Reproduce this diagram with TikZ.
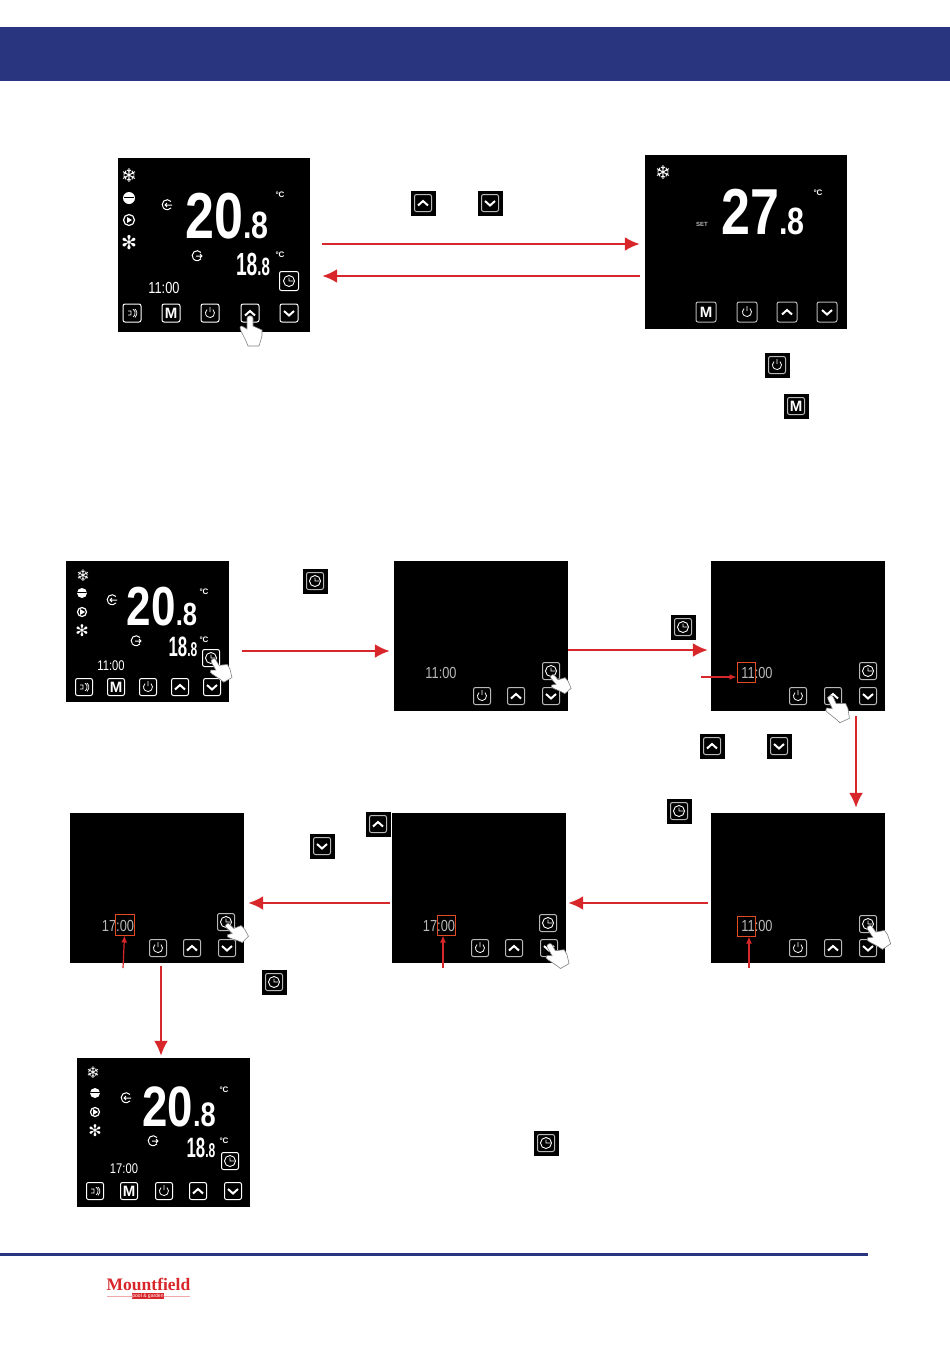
\documentclass[tikz,border=0pt]{standalone}
\usepackage{fontspec}
\setmainfont{Liberation Sans}
\newfontfamily\symfont{DejaVu Sans}
\newfontfamily\logofont{Liberation Serif}
\usetikzlibrary{arrows.meta}

\definecolor{bandblue}{HTML}{2A3580}
\definecolor{flowred}{HTML}{D8272B}
\definecolor{boxred}{HTML}{E24A24}
\definecolor{keygrey}{HTML}{B8B8B8}

\tikzset{
	screen/.style={fill=black, inner sep=0pt},
	flow/.style={draw=flowred, line width=2.3pt, -{Latex[length=15pt,width=14pt]}},
	pointer/.style={draw=flowred, line width=1.2pt, -{Latex[length=7pt,width=6pt]}},
	digitbox/.style={draw=boxred, line width=1pt, inner sep=0pt},
	lcd/.style={text=white, inner sep=0pt, transform shape},
	lcdbig/.style={lcd, font=\bfseries\fontsize{65}{65}\selectfont, xscale=.8},
	lcdmid/.style={lcd, font=\bfseries\fontsize{32}{32}\selectfont, xscale=.6},
	lcdtime/.style={lcd, font=\fontsize{16}{16}\selectfont, xscale=.8},
	unit/.style={text=white, inner sep=0pt, font=\bfseries\fontsize{8}{8}\selectfont},
	symbol/.style={text=white, inner sep=0pt, font=\symfont\fontsize{19}{19}\selectfont},
	keybox/.style={draw=white, fill=black, line width=1pt, rounded corners=2pt, inner sep=0pt, minimum size=17pt},
	keyup/.style={keybox, path picture={\draw[white, sharp corners, line width=2pt, shift={(path picture bounding box.center)}] (-5,2.5) -- (0,-2) -- (5,2.5);}},
	keydown/.style={keybox, path picture={\draw[white, sharp corners, line width=2pt, shift={(path picture bounding box.center)}] (-5,-2) -- (0,2.5) -- (5,-2);}},
	keypower/.style={keybox, path picture={\draw[white, sharp corners, line width=.8pt, shift={(path picture bounding box.center)}] (2.9,-3.4) arc[start angle=-50, end angle=230, radius=4.5] (0,-6) -- (0,-1);}},
	keyclock/.style={keybox, path picture={\draw[white, sharp corners, line width=.9pt, shift={(path picture bounding box.center)}] (0,0) circle[radius=5.5] (0,-3.5) -- (0,0) -- (4,0);}},
	keyfan/.style={keybox, path picture={\draw[white, sharp corners, line width=.7pt, shift={(path picture bounding box.center)}] (-4,-2) -- (-1,-2) -- (-1,2) -- (-4,2) (1,-4) arc[start angle=-60, end angle=60, radius=4.5] (3,-4) arc[start angle=-50, end angle=50, radius=5.5];}},
	keym/.style={keybox, text=white, font=\bfseries\fontsize{15}{15}\selectfont},
	iconbox/.style={fill=black, inner sep=0pt, minimum size=25pt},
	pumpmark/.style={circle, fill=white, inner sep=0pt, minimum size=12pt, path picture={\draw[black, line width=1pt, shift={(path picture bounding box.center)}] (-5,-1) -- (5,-1);}},
	playmark/.style={circle, draw=white, fill=black, line width=1.2pt, inner sep=0pt, minimum size=11pt, path picture={\fill[white, shift={(path picture bounding box.center)}] (-2,-3) -- (3,0) -- (-2,3) -- cycle;}},
	inletmark/.style={inner sep=0pt, minimum size=12pt, path picture={\draw[white, line width=1pt, shift={(path picture bounding box.center)}] (4,-3.5) arc[start angle=40, end angle=320, radius=5, y radius=-5] (5,0) -- (-2,0) (0,-2) -- (-2,0) -- (0,2);}},
	outletmark/.style={inner sep=0pt, minimum size=12pt, path picture={\draw[white, line width=1pt, shift={(path picture bounding box.center)}] (4,-3.5) arc[start angle=40, end angle=320, radius=5, y radius=-5] (-1,0) -- (5,0) (3,-2) -- (5,0) -- (3,2);}},
}

\newcommand{\keyicon}[5]{
	\node[iconbox] (#1box) at (#2,#3) {};
	\node[#4, draw=keygrey, minimum size=17pt] (#1key) at (#2,#3) {#5};
}
\newcommand{\handmark}[4]{
	\draw[draw=gray, fill=white, line width=.6pt, shift={(#1,#2)}, rotate=#3, scale=#4] (-3,1) -- (-3,12) -- (-8,9) .. controls (-11,9) and (-10,12) .. (-9,14) -- (-4,24) -- (-2,29) -- (9,29) -- (12,19) -- (12,13) -- (3,9) -- (3,1) .. controls (3,-2) and (-3,-2) .. (-3,1) -- cycle;
}

\begin{document}
\begin{tikzpicture}[x=1pt, y=-1pt]
	\useasboundingbox (0,0) rectangle (950,1347);
	\fill[bandblue] (0,27) rectangle (950,81);
	\fill[bandblue] (0,1253) rectangle (868,1256);

	% first row
	\node[screen, minimum width=192pt, minimum height=174pt] (scrA) at (214,245) {};
	\node[symbol] (snowA) at (129,176) {❄};
	\node[pumpmark] (pumpA) at (129,198) {};
	\node[playmark] (playA) at (129,220) {};
	\node[symbol] (fanA) at (129,243) {✻};
	\node[inletmark] (inA) at (167,205) {};
	\node[outletmark] (outA) at (197,256) {};
	\node[lcdbig] (tempA) at (227,216) {20{\fontsize{38}{38}\selectfont.8}};
	\node[unit] (unitA) at (280,195) {°C};
	\node[lcdmid] (retA) at (253,264) {18{\fontsize{25}{25}\selectfont.8}};
	\node[unit] (unitAb) at (280,255) {°C};
	\node[keyclock, minimum size=19pt] (clockA) at (289,281) {};
	\node[lcdtime] (timeA) at (164,288) {11:00};
	\node[keyfan, minimum size=18pt] (fanKeyA) at (132,313) {};
	\node[keym, minimum size=18pt] (modeA) at (171,313) {M};
	\node[keypower, minimum size=18pt] (powerA) at (210,313) {};
	\node[keyup, minimum size=18pt] (upA) at (250,313) {};
	\node[keydown, minimum size=18pt] (downA) at (289,313) {};
	\handmark{250}{317}{0}{1}

	\node[screen, minimum width=202pt, minimum height=174pt] (scrB) at (746,242) {};
	\node[symbol] (snowB) at (663,173) {❄};
	\node[text=keygrey, inner sep=0pt, font=\bfseries\fontsize{6}{6}\selectfont] (setB) at (702,224) {SET};
	\node[lcdbig] (tempB) at (763,212) {27{\fontsize{38}{38}\selectfont.8}};
	\node[unit] (unitB) at (818,193) {°C};
	\node[keym, draw=keygrey, minimum size=20pt] (modeB) at (706,312) {M};
	\node[keypower, draw=keygrey, minimum size=20pt] (powerB) at (747,312) {};
	\node[keyup, draw=keygrey, minimum size=20pt] (upB) at (787,312) {};
	\node[keydown, draw=keygrey, minimum size=20pt] (downB) at (827,312) {};

	\keyicon{iconUpA}{423}{203}{keyup}{}
	\keyicon{iconDownA}{490}{203}{keydown}{}
	\keyicon{iconPowerB}{777}{365}{keypower}{}
	\keyicon{iconModeB}{796}{406}{keym}{M}

	\draw[flow] ([xshift=12pt,yshift=1pt]scrA.east) -- ([xshift=-5pt,yshift=-2pt]scrB.west);
	\draw[flow] ([xshift=-5pt,yshift=-34pt]scrB.west) -- ([xshift=12pt,yshift=-31pt]scrA.east);

	% second row
	\node[screen, minimum width=163pt, minimum height=141pt] (scrC) at (147.5,631.5) {};
	\node[symbol, font=\symfont\fontsize{16}{16}\selectfont] (snowC) at (83,576) {❄};
	\node[pumpmark, minimum size=10pt] (pumpC) at (82,593) {};
	\node[playmark, minimum size=9pt] (playC) at (82,612) {};
	\node[symbol, font=\symfont\fontsize{16}{16}\selectfont] (fanC) at (82,631) {✻};
	\node[inletmark] (inC) at (112,600) {};
	\node[outletmark] (outC) at (136,641) {};
	\node[lcdbig, font=\bfseries\fontsize{55}{55}\selectfont] (tempC) at (162,607) {20{\fontsize{32}{32}\selectfont.8}};
	\node[unit] (unitC) at (204,592) {°C};
	\node[lcdmid, font=\bfseries\fontsize{28}{28}\selectfont] (retC) at (183,647) {18{\fontsize{20}{20}\selectfont.8}};
	\node[unit] (unitCb) at (204,640) {°C};
	\node[keyclock] (clockC) at (211,658) {};
	\node[lcdtime, font=\fontsize{14}{14}\selectfont] (timeC) at (111,666) {11:00};
	\node[keyfan] (fanKeyC) at (84,687) {};
	\node[keym] (modeC) at (116,687) {M};
	\node[keypower] (powerC) at (148,687) {};
	\node[keyup] (upC) at (180,687) {};
	\node[keydown] (downC) at (212,687) {};
	\handmark{213}{660}{30}{.85}

	\node[screen, minimum width=174pt, minimum height=150pt] (scrD) at (481,636) {};
	\node[lcdtime, text=keygrey] (timeD) at (441,673) {11:00};
	\node[keyclock, draw=keygrey] (clockD) at (551,671) {};
	\node[keypower, draw=keygrey] (powerD) at (482,696) {};
	\node[keyup, draw=keygrey] (upD) at (516,696) {};
	\node[keydown, draw=keygrey] (downD) at (551,696) {};
	\handmark{552}{676}{40}{.75}

	\node[screen, minimum width=174pt, minimum height=150pt] (scrE) at (798,636) {};
	\node[lcdtime, text=keygrey] (timeE) at (757,673) {11:00};
	\node[digitbox, minimum width=18pt, minimum height=20pt] (boxE) at (746,672) {};
	\node[keyclock, draw=keygrey] (clockE) at (868,671) {};
	\node[keypower, draw=keygrey] (powerE) at (798,696) {};
	\node[keyup, draw=keygrey] (upE) at (833,696) {};
	\node[keydown, draw=keygrey] (downE) at (868,696) {};
	\handmark{830}{697}{25}{.95}
	\coordinate (hourE) at (701,677);
	\draw[pointer] (hourE) -- ([yshift=-5pt]boxE.west);

	\keyicon{iconClockC}{315}{581}{keyclock}{}
	\keyicon{iconClockD}{683}{627}{keyclock}{}
	\keyicon{iconUpE}{712}{746}{keyup}{}
	\keyicon{iconDownE}{779}{746}{keydown}{}
	\keyicon{iconClockF}{679}{811}{keyclock}{}

	\draw[flow] ([xshift=13pt,yshift=-19.5pt]scrC.east) -- ([xshift=-4pt,yshift=-15pt]scrD.west);
	\draw[flow] ([xshift=0pt,yshift=-14pt]scrD.east) -- ([xshift=-3pt,yshift=-14pt]scrE.west);

	% third row
	\node[screen, minimum width=174pt, minimum height=150pt] (scrF) at (798,888) {};
	\node[lcdtime, text=keygrey] (timeF) at (757,926) {11:00};
	\node[digitbox, minimum width=18pt, minimum height=20pt] (boxF) at (746,926) {};
	\node[keyclock, draw=keygrey] (clockF) at (868,924) {};
	\node[keypower, draw=keygrey] (powerF) at (798,948) {};
	\node[keyup, draw=keygrey] (upF) at (833,948) {};
	\node[keydown, draw=keygrey] (downF) at (868,948) {};
	\handmark{869}{927}{35}{.9}
	\coordinate (hourF) at (749,968);
	\draw[pointer] (hourF) -- ([xshift=3pt]boxF.south);

	\node[screen, minimum width=174pt, minimum height=150pt] (scrG) at (479,888) {};
	\node[lcdtime, text=keygrey] (timeG) at (439,926) {17:00};
	\node[digitbox, minimum width=18pt, minimum height=20pt] (boxG) at (446,925) {};
	\node[keyclock, draw=keygrey] (clockG) at (548,923) {};
	\node[keypower, draw=keygrey] (powerG) at (480,948) {};
	\node[keyup, draw=keygrey] (upG) at (514,948) {};
	\node[keydown, draw=keygrey] (downG) at (549,948) {};
	\handmark{549}{945}{30}{.9}
	\coordinate (minuteG) at (443,968);
	\draw[pointer] (minuteG) -- ([xshift=-3pt]boxG.south);

	\node[screen, minimum width=174pt, minimum height=150pt] (scrH) at (157,888) {};
	\node[lcdtime, text=keygrey] (timeH) at (118,926) {17:00};
	\node[digitbox, minimum width=19pt, minimum height=21pt] (boxH) at (124.5,924.5) {};
	\node[keyclock, draw=keygrey] (clockH) at (226,922) {};
	\node[keypower, draw=keygrey] (powerH) at (158,948) {};
	\node[keyup, draw=keygrey] (upH) at (192,948) {};
	\node[keydown, draw=keygrey] (downH) at (227,948) {};
	\handmark{227}{925}{45}{.8}
	\coordinate (minuteH) at (123,968);
	\draw[pointer] (minuteH) -- (boxH.south);

	\keyicon{iconUpG}{378}{824}{keyup}{}
	\keyicon{iconDownG}{322}{846}{keydown}{}
	\keyicon{iconClockH}{274}{982}{keyclock}{}

	\draw[flow] ([xshift=58pt,yshift=-5pt]scrE.south) -- ([xshift=58pt,yshift=5pt]scrF.north);
	\draw[flow] ([xshift=-3pt,yshift=-15pt]scrF.west) -- ([xshift=2pt,yshift=-15pt]scrG.east);
	\draw[flow] ([xshift=-2pt,yshift=-15pt]scrG.west) -- ([xshift=4pt,yshift=-15pt]scrH.east);

	% last screen
	\node[screen, minimum width=173pt, minimum height=149pt] (scrI) at (163.5,1132.5) {};
	\node[symbol, font=\symfont\fontsize{16}{16}\selectfont] (snowI) at (93,1073) {❄};
	\node[pumpmark, minimum size=10pt] (pumpI) at (95,1093) {};
	\node[playmark, minimum size=9pt] (playI) at (95,1112) {};
	\node[symbol, font=\symfont\fontsize{16}{16}\selectfont] (fanI) at (95,1131) {✻};
	\node[inletmark] (inI) at (126,1098) {};
	\node[outletmark] (outI) at (153,1141) {};
	\node[lcdbig, font=\bfseries\fontsize{57}{57}\selectfont] (tempI) at (179,1107) {20{\fontsize{34}{34}\selectfont.8}};
	\node[unit] (unitI) at (224,1090) {°C};
	\node[lcdmid, font=\bfseries\fontsize{28}{28}\selectfont] (retI) at (201,1148) {18{\fontsize{20}{20}\selectfont.8}};
	\node[unit] (unitIb) at (224,1141) {°C};
	\node[keyclock] (clockI) at (230,1161) {};
	\node[lcdtime, font=\fontsize{14}{14}\selectfont] (timeI) at (124,1169) {17:00};
	\node[keyfan] (fanKeyI) at (95,1191) {};
	\node[keym] (modeI) at (129,1191) {M};
	\node[keypower] (powerI) at (164,1191) {};
	\node[keyup] (upI) at (198,1191) {};
	\node[keydown] (downI) at (233,1191) {};

	\keyicon{iconClockI}{546}{1143}{keyclock}{}

	\draw[flow] ([xshift=4pt,yshift=-3pt]scrH.south) -- ([xshift=-2.5pt,yshift=2pt]scrI.north);

	% logo
	\draw[flowred!40, line width=.4pt] (107,1296) -- (190,1296);
	\node[text=flowred, inner sep=0pt, font=\logofont\bfseries\fontsize{17.5}{17.5}\selectfont] (logo) at (148.5,1284) {Mountfield};
	\node[fill=flowred, text=white, inner sep=.5pt, font=\fontsize{5}{5}\selectfont] (logoSub) at (148,1296) {pool \& garden};
\end{tikzpicture}
\end{document}
